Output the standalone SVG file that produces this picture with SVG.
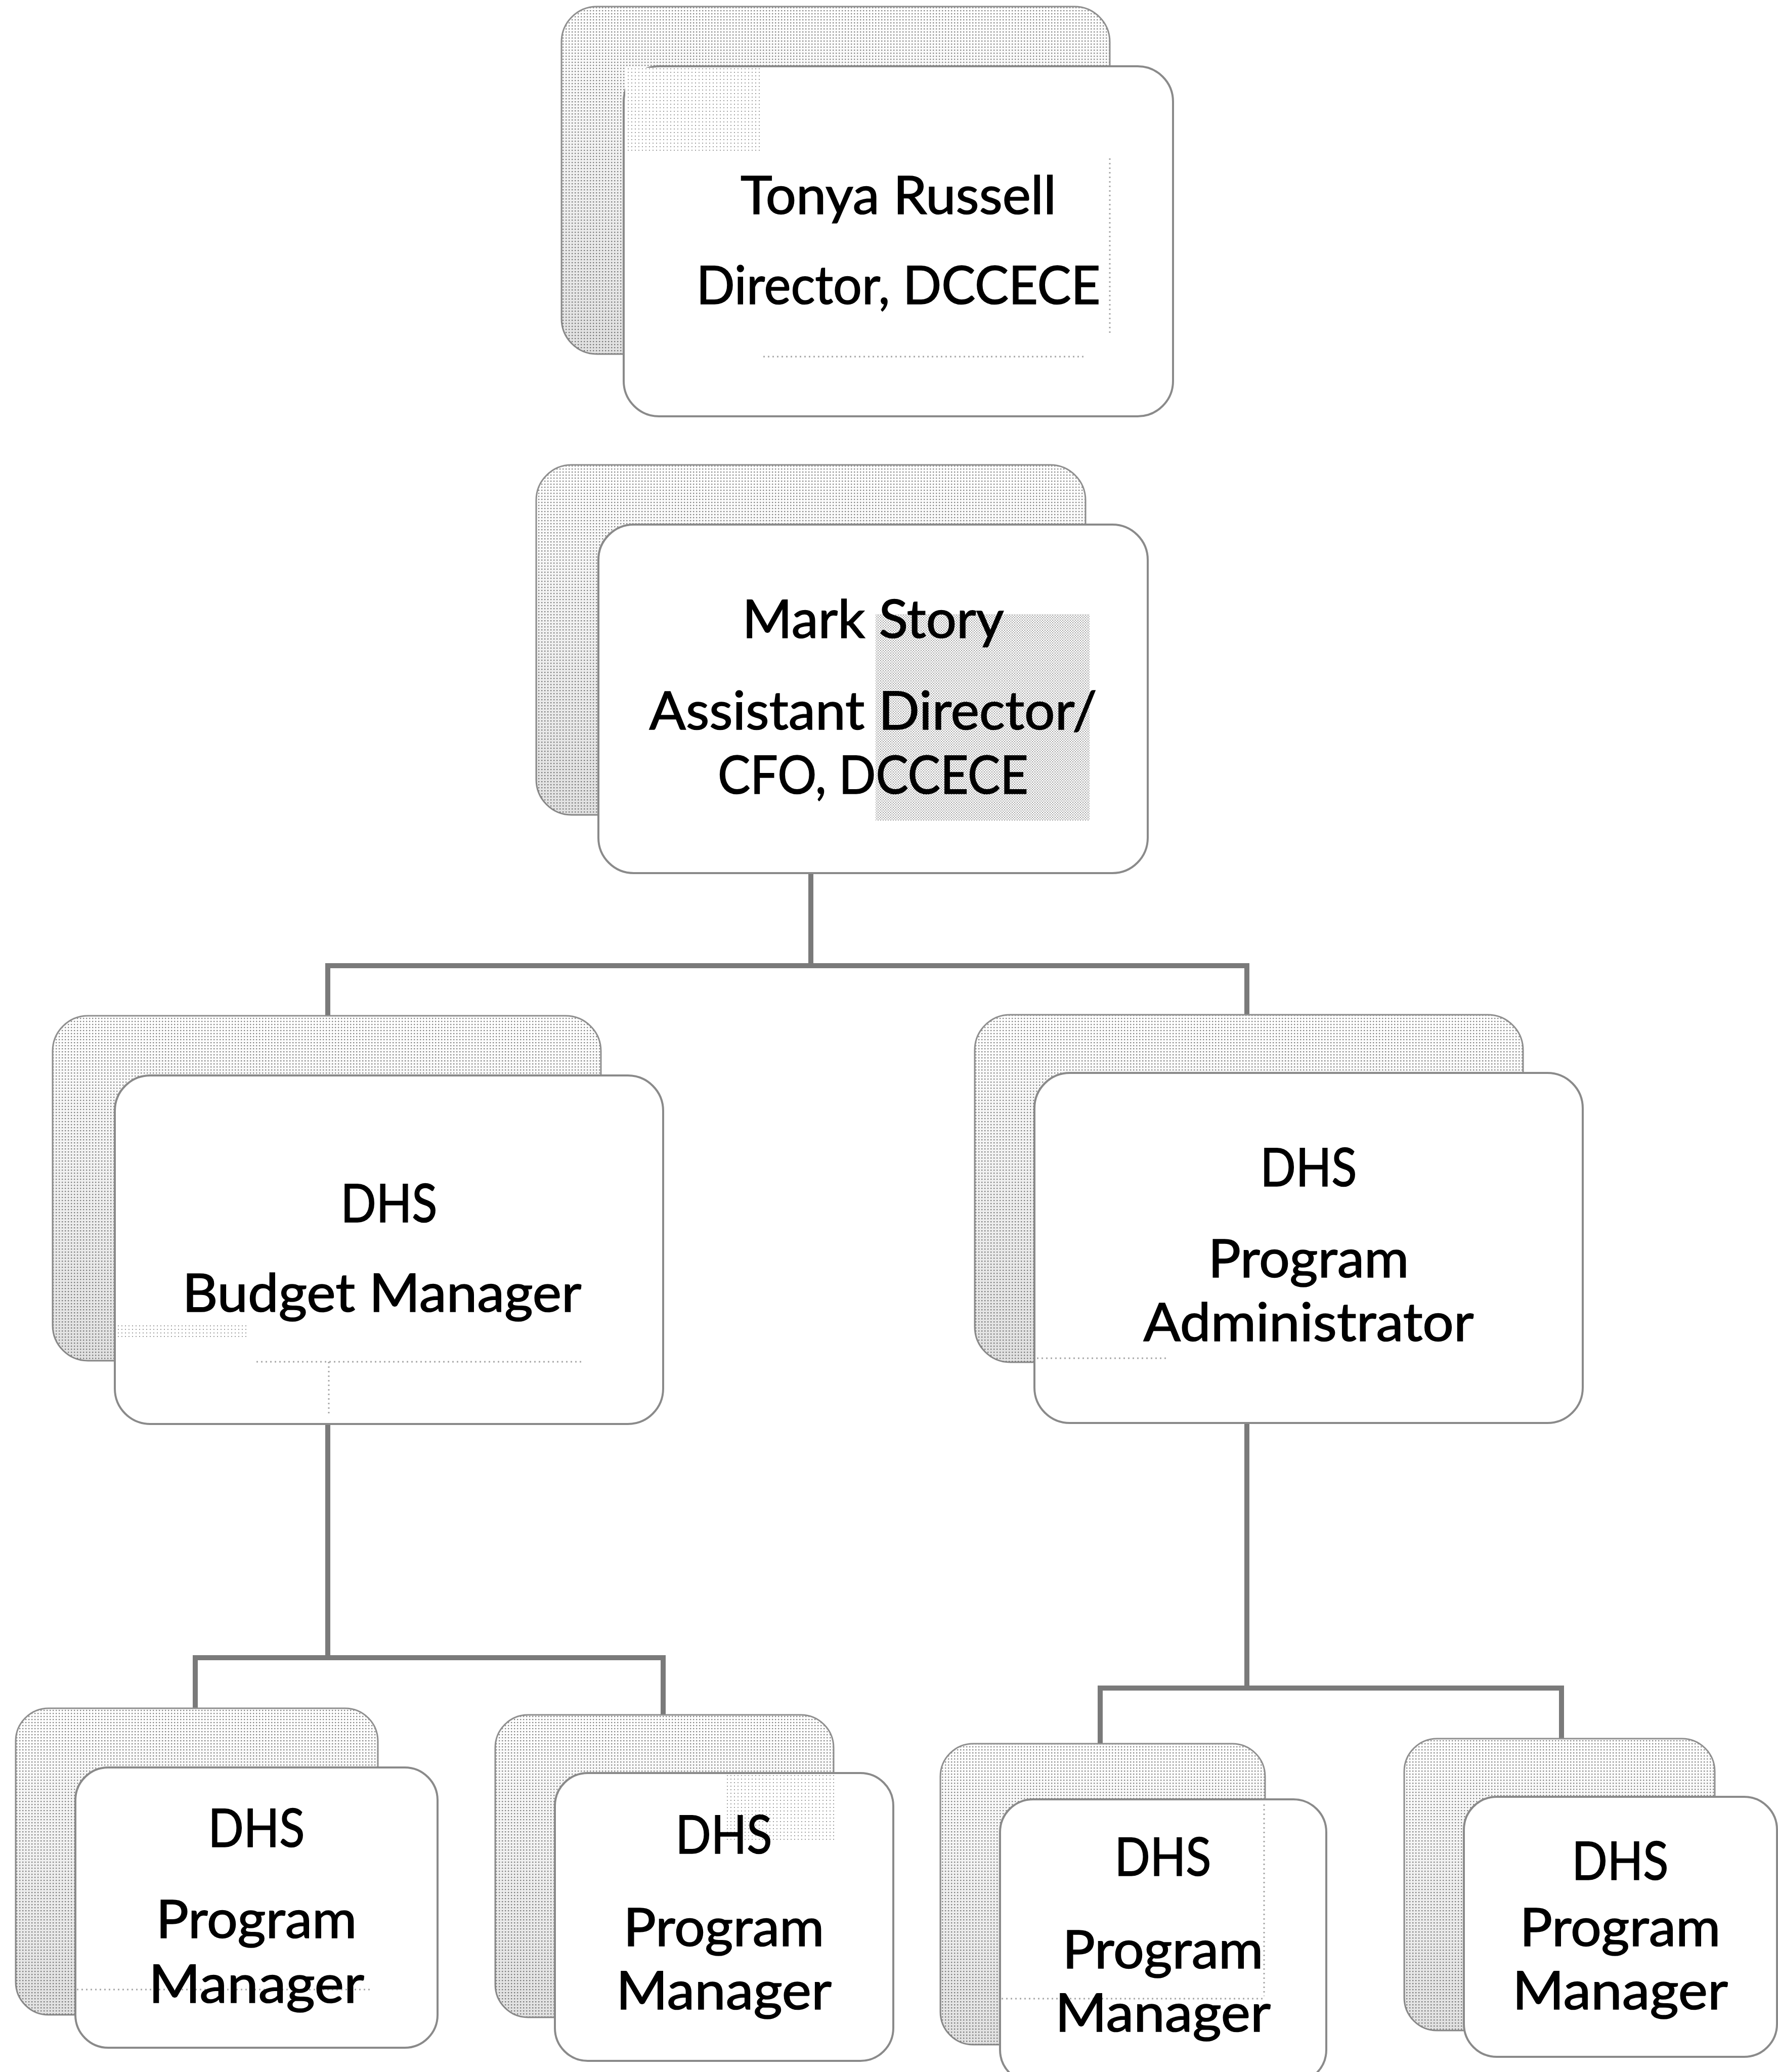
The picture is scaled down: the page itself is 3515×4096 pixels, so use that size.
<svg xmlns="http://www.w3.org/2000/svg" width="3515" height="4096" viewBox="0 0 3515 4096">
<style>
.shadow{fill:url(#dots);stroke:#8f8f8f;stroke-width:3}
.shade{fill:url(#shadeGrad);stroke:none}
.box{fill:#fff;stroke:#8a8a8a;stroke-width:4}
.t{font-family:Lato,"Liberation Sans",sans-serif;font-size:104px;fill:#000;stroke:#000;stroke-width:1.6;text-anchor:middle}
.conn{fill:none;stroke:#7a7a7a;stroke-width:10;stroke-linejoin:miter;stroke-linecap:square}
.ghost{fill:none;stroke:#a8a8a8;stroke-width:3;stroke-dasharray:3 6}
.patch{fill:url(#sparse)}
.patch2{fill:url(#dense)}
</style>
<defs>
<pattern id="dots" width="6" height="6" patternUnits="userSpaceOnUse">
<rect width="6" height="6" fill="#fff"/>
<rect x="2" y="2" width="2.4" height="2.4" fill="#8c8c8c"/>
</pattern>
<pattern id="sparse" width="7" height="7" patternUnits="userSpaceOnUse">
<rect width="7" height="7" fill="#fff"/>
<rect x="2" y="2" width="2" height="2" fill="#a0a0a0"/>
</pattern>
<pattern id="dense" width="5" height="5" patternUnits="userSpaceOnUse">
<rect width="5" height="5" fill="#fff"/>
<rect x="0" y="0" width="2" height="2" fill="#9a9a9a"/>
<rect x="2.5" y="2.5" width="2" height="2" fill="#9a9a9a"/>
</pattern>
<linearGradient id="shadeGrad" x1="0" y1="0" x2="0" y2="1">
<stop offset="0" stop-color="#000" stop-opacity="0"/>
<stop offset="1" stop-color="#000" stop-opacity="0.12"/>
</linearGradient>
</defs>
<rect width="3515" height="4096" fill="#fff"/>

<g id="connectors">
<path class="conn" d="M1603 1726 V1909 M648 2008 V1909 H2465 V2006"/>
<path class="conn" d="M648 2815 V3277 M386 3377 V3277 H1311 V3390"/>
<path class="conn" d="M2465 2813 V3337 M2175 3447 V3337 H3087 V3437"/>
</g>

<g id="node-tonya-russell">
<rect class="shadow" x="1110" y="13" width="1084" height="687" rx="70"/>
<rect class="shade" x="1110" y="13" width="1084" height="687" rx="70"/>
<rect class="box" x="1233" y="131" width="1086" height="692" rx="70"/>
<rect class="patch" x="1236" y="134" width="266" height="164"/>
<path class="ghost" d="M2194 313 V661 M1509 705 H2144"/>
<text class="t" x="1776" y="423" textLength="624" lengthAdjust="spacingAndGlyphs">Tonya Russell</text>
<text class="t" x="1776" y="601" textLength="799" lengthAdjust="spacingAndGlyphs">Director, DCCECE</text>
</g>

<g id="node-mark-story">
<rect class="shadow" x="1060" y="919" width="1086" height="692" rx="70"/>
<rect class="shade" x="1060" y="919" width="1086" height="692" rx="70"/>
<rect class="box" x="1183" y="1037" width="1086" height="689" rx="70"/>
<rect class="patch2" x="1731" y="1214" width="423" height="408"/>
<text class="t" x="1726" y="1261" textLength="517" lengthAdjust="spacingAndGlyphs">Mark Story</text>
<text class="t" x="1726" y="1442" textLength="885" lengthAdjust="spacingAndGlyphs">Assistant Director/</text>
<text class="t" x="1726" y="1569" textLength="614" lengthAdjust="spacingAndGlyphs">CFO, DCCECE</text>
</g>

<g id="node-budget-manager">
<rect class="shadow" x="104" y="2008" width="1084" height="682" rx="70"/>
<rect class="shade" x="104" y="2008" width="1084" height="682" rx="70"/>
<rect class="box" x="227" y="2126" width="1084" height="689" rx="70"/>
<rect class="patch" x="229" y="2617" width="261" height="28"/>
<path class="ghost" d="M507 2692 H1149 M650 2692 V2797"/>
<text class="t" x="769" y="2416" textLength="191" lengthAdjust="spacingAndGlyphs">DHS</text>
<text class="t" x="755" y="2593" textLength="789" lengthAdjust="spacingAndGlyphs">Budget Manager</text>
</g>

<g id="node-program-administrator">
<rect class="shadow" x="1927" y="2006" width="1084" height="687" rx="70"/>
<rect class="shade" x="1927" y="2006" width="1084" height="687" rx="70"/>
<rect class="box" x="2045" y="2121" width="1084" height="692" rx="70"/>
<path class="ghost" d="M2050 2685 H2311"/>
<text class="t" x="2587" y="2345" textLength="191" lengthAdjust="spacingAndGlyphs">DHS</text>
<text class="t" x="2587" y="2525" textLength="397" lengthAdjust="spacingAndGlyphs">Program</text>
<text class="t" x="2587" y="2651" textLength="653" lengthAdjust="spacingAndGlyphs">Administrator</text>
</g>

<g id="node-program-manager-1">
<rect class="shadow" x="31" y="3377" width="716" height="606" rx="65"/>
<rect class="shade" x="31" y="3377" width="716" height="606" rx="65"/>
<rect class="box" x="149" y="3494" width="716" height="554" rx="65"/>
<path class="ghost" d="M152 3933 H734"/>
<text class="t" x="507" y="3651" textLength="191" lengthAdjust="spacingAndGlyphs">DHS</text>
<text class="t" x="507" y="3831" textLength="397" lengthAdjust="spacingAndGlyphs">Program</text>
<text class="t" x="507" y="3959" textLength="426" lengthAdjust="spacingAndGlyphs">Manager</text>
</g>

<g id="node-program-manager-2">
<rect class="shadow" x="979" y="3390" width="669" height="598" rx="65"/>
<rect class="shade" x="979" y="3390" width="669" height="598" rx="65"/>
<rect class="box" x="1097" y="3505" width="669" height="569" rx="65"/>
<rect class="patch" x="1436" y="3508" width="214" height="132"/>
<text class="t" x="1431" y="3664" textLength="191" lengthAdjust="spacingAndGlyphs">DHS</text>
<text class="t" x="1431" y="3847" textLength="397" lengthAdjust="spacingAndGlyphs">Program</text>
<text class="t" x="1431" y="3972" textLength="426" lengthAdjust="spacingAndGlyphs">Manager</text>
</g>

<g id="node-program-manager-3">
<rect class="shadow" x="1859" y="3447" width="642" height="595" rx="65"/>
<rect class="shade" x="1859" y="3447" width="642" height="595" rx="65"/>
<rect class="box" x="1977" y="3557" width="645" height="560" rx="65"/>
<path class="ghost" d="M2499 3567 V3946 M1980 3951 H2499"/>
<text class="t" x="2299" y="3708" textLength="191" lengthAdjust="spacingAndGlyphs">DHS</text>
<text class="t" x="2299" y="3891" textLength="397" lengthAdjust="spacingAndGlyphs">Program</text>
<text class="t" x="2299" y="4016" textLength="426" lengthAdjust="spacingAndGlyphs">Manager</text>
</g>

<g id="node-program-manager-4">
<rect class="shadow" x="2776" y="3437" width="614" height="577" rx="65"/>
<rect class="shade" x="2776" y="3437" width="614" height="577" rx="65"/>
<rect class="box" x="2894" y="3552" width="619" height="514" rx="65"/>
<text class="t" x="3203" y="3716" textLength="191" lengthAdjust="spacingAndGlyphs">DHS</text>
<text class="t" x="3203" y="3847" textLength="397" lengthAdjust="spacingAndGlyphs">Program</text>
<text class="t" x="3203" y="3972" textLength="426" lengthAdjust="spacingAndGlyphs">Manager</text>
</g>
</svg>
